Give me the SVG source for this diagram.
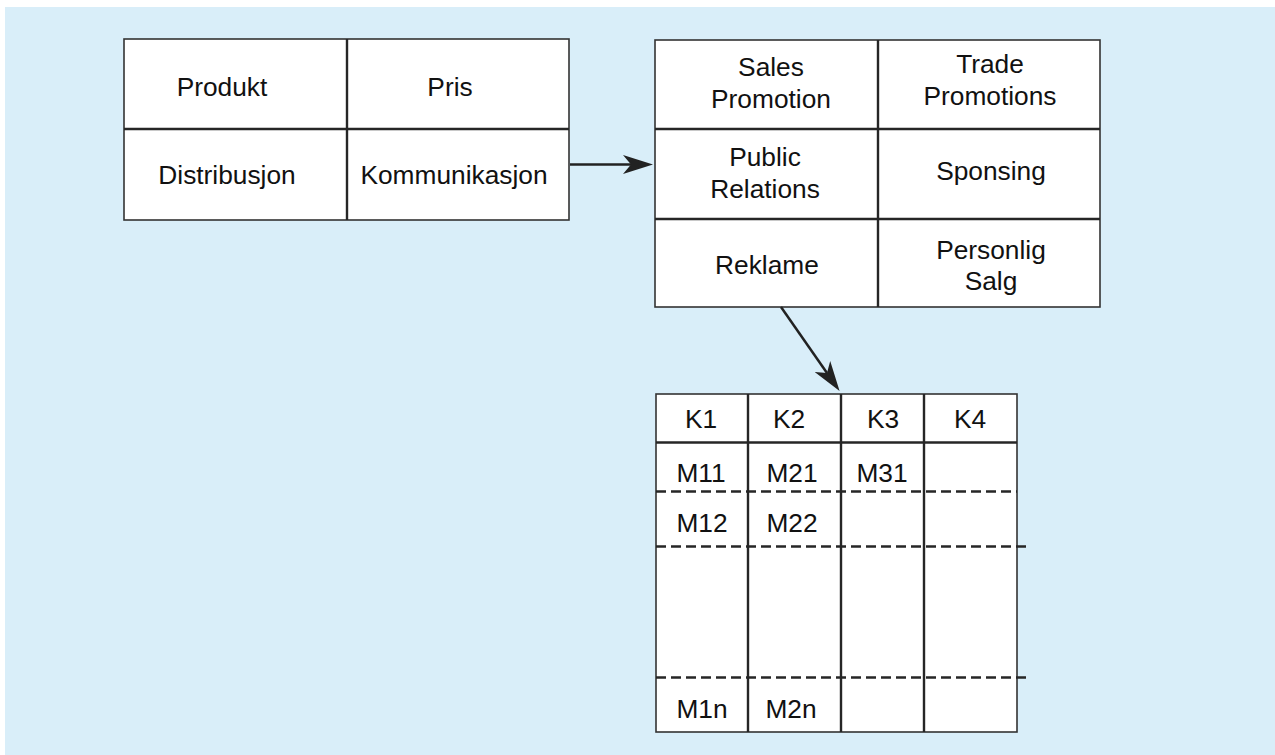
<svg xmlns="http://www.w3.org/2000/svg" width="1275" height="755" viewBox="0 0 1275 755">
  <style>
    .cell { fill: #ffffff; stroke: #333333; stroke-width: 1.6; }
    .grid { stroke: #262626; stroke-width: 2.4; fill: none; }
    .dash { stroke: #262626; stroke-width: 2.4; stroke-dasharray: 10 5; fill: none; }
    .lbl { font-family: "Liberation Sans", Arial, sans-serif; font-size: 26.3px; fill: #111111; text-anchor: middle; }
    .conn { stroke: #222222; stroke-width: 2.5; fill: none; marker-end: url(#head); }
  </style>
  <defs>
    <marker id="head" viewBox="0 0 30 19" refX="8" refY="9.5" markerWidth="30" markerHeight="19" markerUnits="userSpaceOnUse" orient="auto">
      <path d="M0,0 L30,9.5 L0,19 L8,9.5 Z" fill="#222222"/>
    </marker>
  </defs>

  <!-- backdrop -->
  <rect x="5" y="7" width="1270" height="748" fill="#d9eef9"/>

  <!-- marketing mix: 4P -->
  <g id="mix">
    <rect class="cell" x="124" y="39" width="445" height="181"/>
    <line class="grid" x1="347" y1="39" x2="347" y2="220"/>
    <line class="grid" x1="124" y1="129" x2="569" y2="129"/>
    <text class="lbl" x="222" y="96">Produkt</text>
    <text class="lbl" x="450" y="96">Pris</text>
    <text class="lbl" x="227" y="184">Distribusjon</text>
    <text class="lbl" x="454" y="184">Kommunikasjon</text>
  </g>

  <!-- communication tools -->
  <g id="tools">
    <rect class="cell" x="655" y="40" width="445" height="267"/>
    <line class="grid" x1="878" y1="40" x2="878" y2="307"/>
    <line class="grid" x1="655" y1="129" x2="1100" y2="129"/>
    <line class="grid" x1="655" y1="219" x2="1100" y2="219"/>
    <text class="lbl" x="771" y="76">Sales</text>
    <text class="lbl" x="771" y="108">Promotion</text>
    <text class="lbl" x="990" y="73">Trade</text>
    <text class="lbl" x="990" y="105">Promotions</text>
    <text class="lbl" x="765" y="166">Public</text>
    <text class="lbl" x="765" y="198">Relations</text>
    <text class="lbl" x="991" y="180">Sponsing</text>
    <text class="lbl" x="767" y="274">Reklame</text>
    <text class="lbl" x="991" y="259">Personlig</text>
    <text class="lbl" x="991" y="290">Salg</text>
  </g>

  <!-- channel / message matrix -->
  <g id="matrix">
    <rect class="cell" x="656" y="394" width="361" height="338"/>
    <line class="grid" x1="656" y1="442.5" x2="1017" y2="442.5"/>
    <line class="grid" x1="748" y1="394" x2="748" y2="732"/>
    <line class="grid" x1="841" y1="394" x2="841" y2="732"/>
    <line class="grid" x1="924" y1="394" x2="924" y2="732"/>
    <line class="dash" x1="656" y1="491.5" x2="1017" y2="491.5" stroke-dasharray="10 4.9"/>
    <line class="dash" x1="656" y1="546.5" x2="1026" y2="546.5"/>
    <line class="dash" x1="656" y1="677.5" x2="1026" y2="677.5"/>
    <text class="lbl" x="701" y="428">K1</text>
    <text class="lbl" x="789" y="428">K2</text>
    <text class="lbl" x="883" y="428">K3</text>
    <text class="lbl" x="970" y="428">K4</text>
    <text class="lbl" x="701" y="482">M11</text>
    <text class="lbl" x="792" y="482">M21</text>
    <text class="lbl" x="882" y="482">M31</text>
    <text class="lbl" x="702" y="532">M12</text>
    <text class="lbl" x="792" y="532">M22</text>
    <text class="lbl" x="702" y="718">M1n</text>
    <text class="lbl" x="791" y="718">M2n</text>
  </g>

  <!-- connectors -->
  <g id="connectors">
    <line class="conn" x1="570" y1="164.5" x2="631" y2="164.5"/>
    <line class="conn" x1="781" y1="307" x2="827" y2="373"/>
  </g>
</svg>
